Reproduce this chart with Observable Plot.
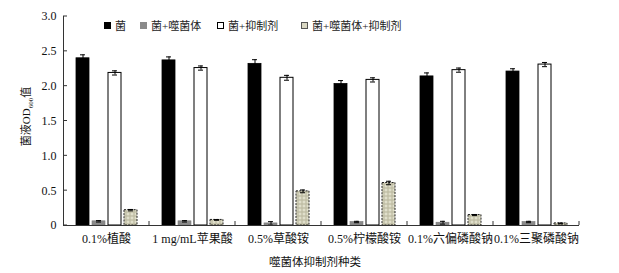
<!DOCTYPE html>
<html><head><meta charset="utf-8">
<script src="https://cdn.jsdelivr.net/npm/d3@7"></script>
<script src="https://cdn.jsdelivr.net/npm/@observablehq/plot@0.6"></script>
<style>
body{margin:0;background:#fff}
#wrap{position:relative;width:619px;height:273px;overflow:hidden}
.lg{position:absolute;top:18px;height:14px;display:flex;align-items:center;font:11px "Liberation Serif","Noto Sans CJK SC",serif;color:#222;white-space:nowrap}
.sw{width:7px;height:7px;box-sizing:border-box;margin-right:4px}
</style></head><body><div id="wrap"></div>
<script>
const FONT = '"Liberation Serif","Times New Roman","Noto Sans CJK SC",serif';
const groups = ["0.1%植酸", "1 mg/mL苹果酸", "0.5%草酸铵", "0.5%柠檬酸铵", "0.1%六偏磷酸钠", "0.1%三聚磷酸钠"];
const series = ["菌", "菌+噬菌体", "菌+抑制剂", "菌+噬菌体+抑制剂"];
const bacteria     = [2.40, 2.37, 2.32, 2.03, 2.14, 2.21];
const bacteriaErr  = [0.05, 0.05, 0.06, 0.05, 0.05, 0.04];
const phage        = [0.06, 0.06, 0.03, 0.05, 0.04, 0.05];
const phageErr     = [0.01, 0.01, 0.025, 0.01, 0.02, 0.01];
const inhibitor    = [2.19, 2.26, 2.12, 2.09, 2.23, 2.31];
const inhibitorErr = [0.03, 0.03, 0.035, 0.03, 0.03, 0.03];
const combo        = [0.22, 0.08, 0.49, 0.61, 0.15, 0.03];
const comboErr     = [0.01, 0.005, 0.02, 0.025, 0.008, 0.005];
const yTicks = [0, 0.5, 1.0, 1.5, 2.0, 2.5, 3.0];
const yTickLabels = ["0", "0.5", "1.0", "1.5", "2.0", "2.5", "3.0"];
const xTitle = "噬菌体抑制剂种类";

const vals = [bacteria, phage, inhibitor, combo];
const errs = [bacteriaErr, phageErr, inhibitorErr, comboErr];
const rows = [];
groups.forEach((g, gi) => series.forEach((s, si) => rows.push({group: g, series: s, value: vals[si][gi], err: errs[si][gi]})));
const bySeries = s => rows.filter(d => d.series === s);

const styles = [
  {fill: "#000", stroke: "#000", strokeWidth: 0.8},
  {fill: "#8a8a8a", stroke: "#7a7a7a", strokeWidth: 0.6},
  {fill: "#fff", stroke: "#000", strokeWidth: 1},
  {fill: "url(#tex)", stroke: "#222", strokeWidth: 1, strokeDasharray: "2,1.2"}
];

const marks = [];
series.forEach((s, i) => {
  marks.push(Plot.barY(bySeries(s), {fx: "group", x: "series", y: "value", ...styles[i]}));
});
marks.push(Plot.ruleX(rows, {fx: "group", x: "series", y1: d => d.value - d.err, y2: d => d.value + d.err, stroke: "#000", strokeWidth: 1}));
marks.push(Plot.tickY(rows, {fx: "group", x: "series", y: d => d.value + d.err, stroke: "#000", strokeWidth: 1, insetLeft: 4, insetRight: 4}));
marks.push(Plot.tickY(rows, {fx: "group", x: "series", y: d => d.value - d.err, stroke: "#000", strokeWidth: 1, insetLeft: 4, insetRight: 4}));
marks.push(Plot.ruleY([0], {stroke: "#333", strokeWidth: 1}));
marks.push(Plot.axisY(yTicks, {tickFormat: (d) => yTickLabels[yTicks.indexOf(d)], tickSize: 0, tickPadding: 7, fontSize: 12, label: null}));
marks.push(Plot.axisFx({anchor: "bottom", tickSize: 0, tickPadding: 9, fontSize: 12, label: null}));

const plot = Plot.plot({
  width: 619, height: 273,
  marginLeft: 61, marginRight: 39, marginTop: 16, marginBottom: 48,
  style: {fontFamily: FONT, color: "#111", background: "white", overflow: "visible"},
  fx: {domain: groups, padding: 0, label: null},
  x: {domain: series, paddingInner: 0.19, paddingOuter: 0.78, axis: null},
  y: {domain: [0, 3], label: null, axis: null},
  marks
});
document.getElementById("wrap").appendChild(plot);

const svg = d3.select(plot);
const defs = svg.insert("defs", ":first-child");
const pat = defs.append("pattern").attr("id", "tex").attr("patternUnits", "userSpaceOnUse").attr("width", 4).attr("height", 4);
pat.append("rect").attr("width", 4).attr("height", 4).attr("fill", "#bdbba2");
pat.append("rect").attr("x", 0.6).attr("y", 0.6).attr("width", 2.8).attr("height", 2.8).attr("fill", "#e0dfcb");

const y = plot.scale("y"), fx = plot.scale("fx");
const y0 = y.apply(0), y3 = y.apply(3);
const left = fx.apply(groups[0]);
const g = svg.append("g").attr("stroke", "#333").attr("stroke-width", 1);
g.append("line").attr("x1", left + 0.5).attr("x2", left + 0.5).attr("y1", y3).attr("y2", y0);
yTicks.forEach(t => g.append("line").attr("x1", left).attr("x2", left + 4).attr("y1", y.apply(t)).attr("y2", y.apply(t)));
groups.forEach(gr => {
  const xr = fx.apply(gr) + fx.bandwidth;
  g.append("line").attr("x1", xr).attr("x2", xr).attr("y1", y0).attr("y2", y0 - 4);
});
svg.append("text").attr("x", (left + fx.apply(groups[groups.length - 1]) + fx.bandwidth) / 2 - 6).attr("y", 266)
  .attr("text-anchor", "middle").attr("font-size", 11.5).attr("fill", "#111").attr("font-family", FONT).text(xTitle);
const yt = svg.append("text").attr("transform", `translate(30,${(y0 + y3) / 2 - 4}) rotate(-90)`)
  .attr("text-anchor", "middle").attr("font-size", 11).attr("fill", "#111").attr("font-family", FONT);
yt.append("tspan").text("菌液OD");
yt.append("tspan").attr("font-size", 7).attr("dy", 3).text("600");
yt.append("tspan").attr("dy", -3).text("值");

const wrap = document.getElementById("wrap");
const lgLeft = [104, 140, 217, 301];
const swStyles = [
  "background:#000",
  "background:#8a8a8a",
  "background:#fff;border:1px solid #000",
  "background:#d9d7c2;border:1px solid #555"
];
series.forEach((s, i) => {
  const d = document.createElement("div");
  d.className = "lg";
  d.style.left = lgLeft[i] + "px";
  d.innerHTML = `<div class="sw" style="${swStyles[i]}"></div><span></span>`;
  d.querySelector("span").textContent = s;
  wrap.appendChild(d);
});
</script></body></html>
